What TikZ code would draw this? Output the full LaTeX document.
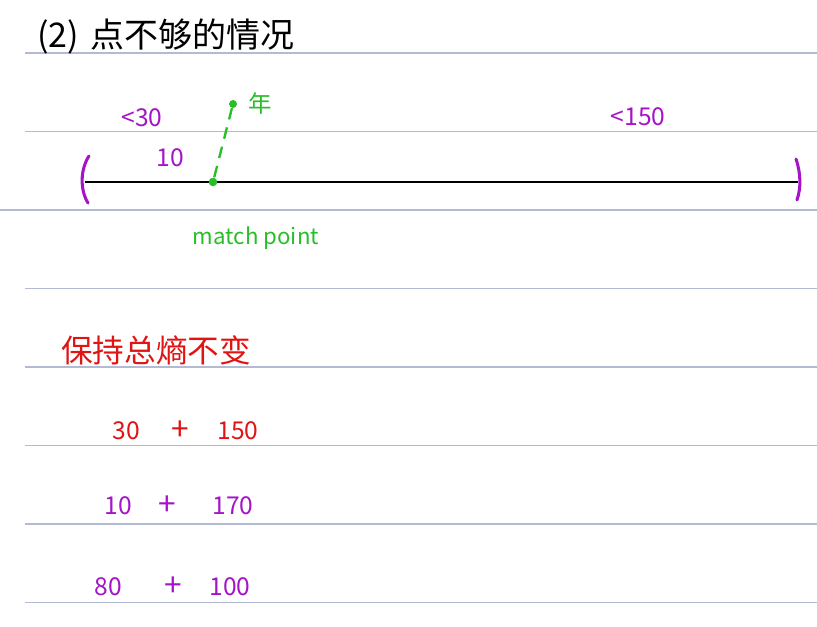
\documentclass[tikz,border=0pt]{standalone}
\usepackage{fontspec}
\setmainfont{Noto Sans CJK SC}
\usepackage{xcolor}
\usepackage{tikz}
\usetikzlibrary{positioning}
\definecolor{penpurple}{RGB}{165, 20, 200}
\definecolor{pengreen}{RGB}{40, 190, 40}
\definecolor{penred}{RGB}{225, 20, 20}
\definecolor{ruleblue}{RGB}{178, 186, 212}
\tikzset{
  numtxt/.style={font=\fontsize{21}{21}\selectfont, inner sep=0pt},
  plustxt/.style={font=\fontsize{27}{27}\selectfont, inner sep=0pt},
  hantxt/.style={font=\fontsize{27}{27}\selectfont, inner sep=0pt},
  ruled/.style={ruleblue, line width=0.9pt}
}

\begin{document}
\begin{tikzpicture}[x=0.03cm,y=-0.03cm]
\useasboundingbox (0,0) rectangle (817,627);
% ruled paper
\foreach \y in {53,131.5,288.5,367,445.5,524,602.5}
  \draw[ruled] (25,\y) -- (817,\y);
\draw[ruled] (0,210) -- (817,210);
% title
\node[hantxt, anchor=west, font=\fontsize{29}{29}\selectfont] (title) at (37,36) {(2)\,\,点不够的情况};
% number line
\coordinate (lend) at (85,182);
\coordinate (rend) at (798,182);
\draw[line width=2.2pt] (lend) -- (rend);
\draw[penpurple, line width=2.6pt, line cap=round] (89,156) .. controls (80,170) and (80,190) .. (88,203);
\draw[penpurple, line width=2.6pt, line cap=round] (796,159) .. controls (801,174) and (801,188) .. (797,200);
\node[circle, fill=pengreen, inner sep=2.6pt] (mpoint) at (213,182) {};
\node[circle, fill=pengreen, inner sep=2.4pt] (mtop) at (233,104) {};
\draw[pengreen, line width=2pt, dash pattern=on 10pt off 7pt] (mtop) -- (mpoint);
\node[pengreen, font=\fontsize{20}{20}\selectfont, right=6pt of mtop] (nian) {年};
\node[pengreen, font=\fontsize{19}{19}\selectfont] (mlabel) at (256,238) {match point};
% bounds
\node[numtxt, penpurple] (lt30) at (142,118) {<30};
\node[numtxt, penpurple] (ten) at (170,158) {10};
\node[numtxt, penpurple] (lt150) at (638,117) {<150};
% keep the total
\node[hantxt, penred, anchor=west] (keep) at (61,350) {保持总熵不变};
\node[numtxt, penred] (a1) at (126,431) {30};
\node[plustxt, penred] (p1) at (180,431) {+};
\node[numtxt, penred] (b1) at (238,431) {150};
\node[numtxt, penpurple] (a2) at (118,506) {10};
\node[plustxt, penpurple] (p2) at (167,506) {+};
\node[numtxt, penpurple] (b2) at (233,506) {170};
\node[numtxt, penpurple] (a3) at (108,587) {80};
\node[plustxt, penpurple] (p3) at (173,587) {+};
\node[numtxt, penpurple] (b3) at (230,587) {100};
\end{tikzpicture}
\end{document}
